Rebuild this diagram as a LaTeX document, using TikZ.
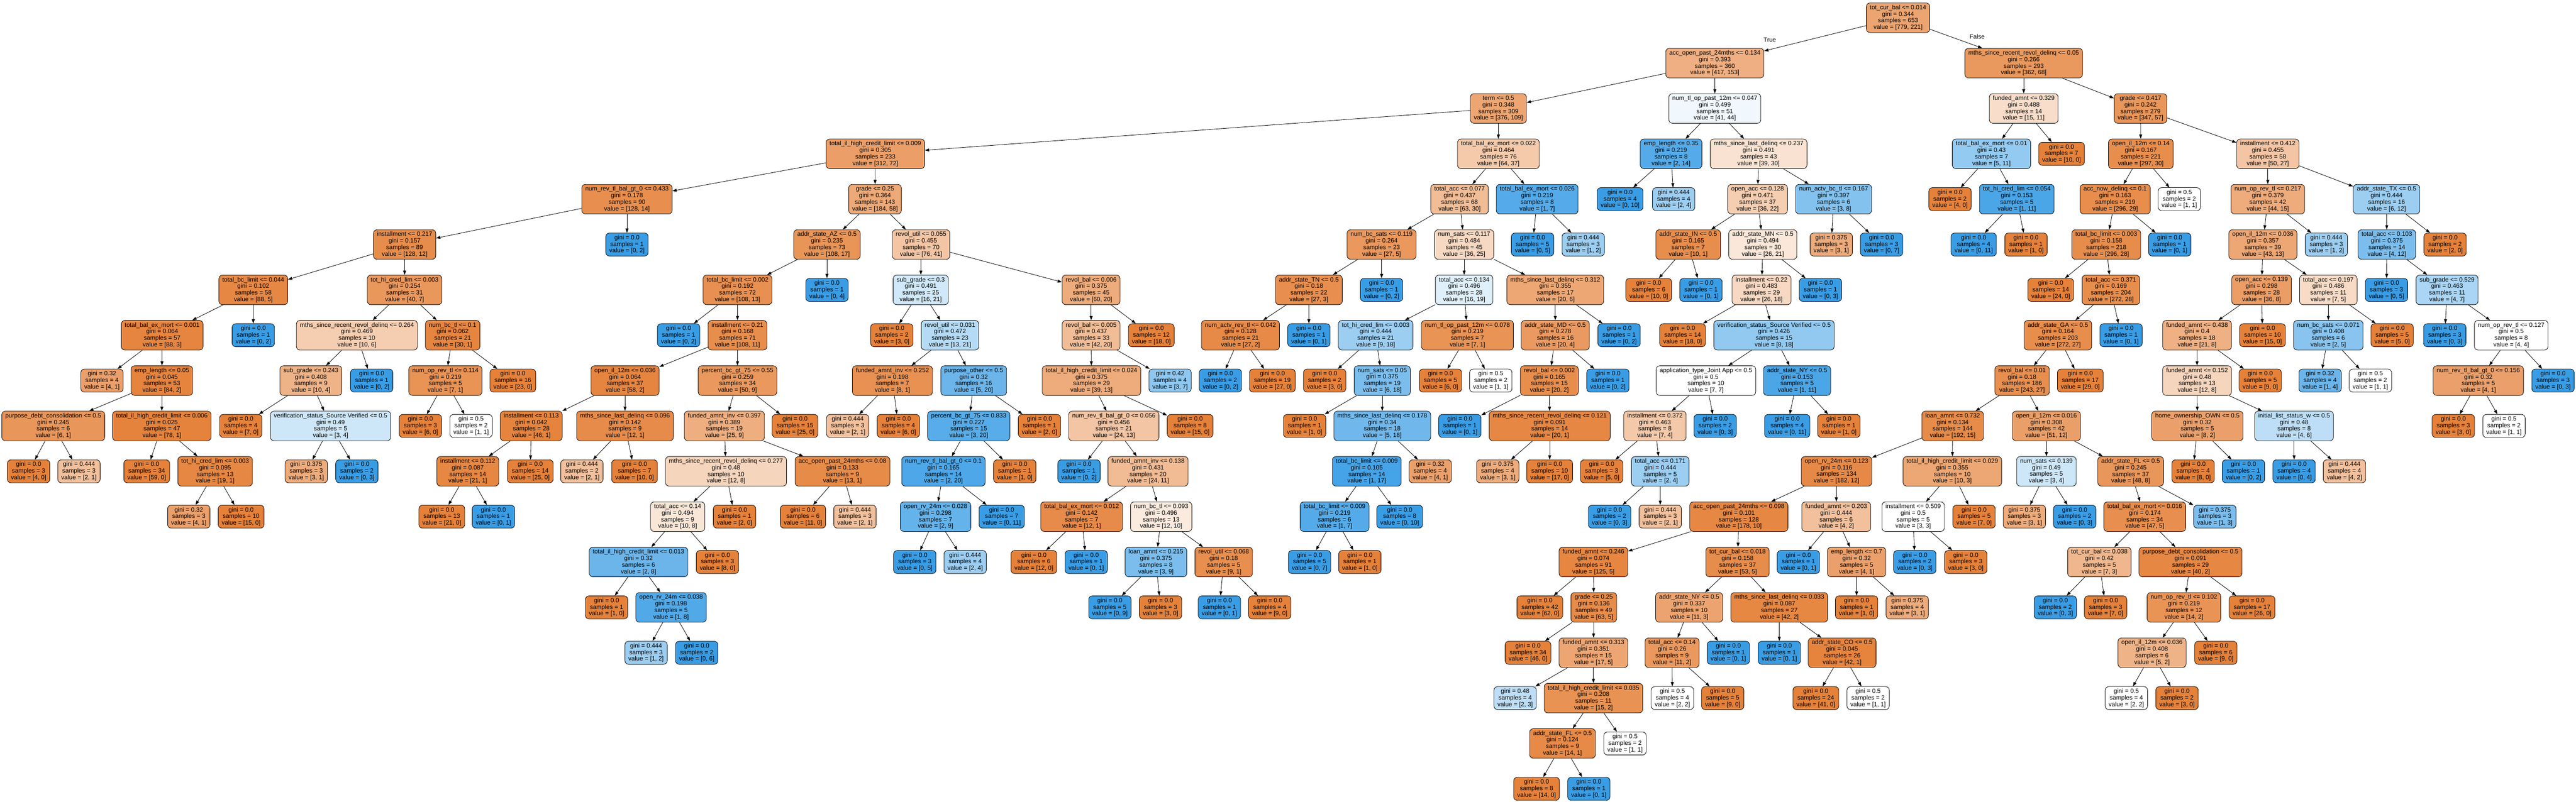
\documentclass[tikz,border=0pt]{standalone}
\usepackage{fontspec}
\setmainfont{Liberation Sans}
\usetikzlibrary{arrows.meta}
\definecolor{gvorange}{HTML}{E58139}
\definecolor{gvblue}{HTML}{399DE5}
\tikzstyle{split} = [rectangle, rounded corners=11pt, draw=black, line width=1.3pt, align=center, inner xsep=10.67pt, inner ysep=0pt, minimum height=90pt, font=\fontsize{18.67}{20}\selectfont]
\tikzstyle{leaf} = [split, minimum height=70pt]
\tikzstyle{lbl} = [inner sep=0pt, font=\fontsize{18.67}{20}\selectfont]
\tikzset{val/.code 2 args={%
  \ifnum#1<#2 \pgfmathsetmacro\gvmix{100*(1-#1/#2)}\def\gvhue{gvblue}%
  \else \pgfmathsetmacro\gvmix{100*(1-#2/#1)}\def\gvhue{gvorange}\fi
  \edef\gvtmp{\noexpand\pgfkeysalso{fill=\gvhue!\gvmix!white}}\gvtmp}}
\begin{document}
\begin{tikzpicture}[x=1pt, y=-138pt, line width=1.3pt, >={Triangle[length=13pt,width=9pt]}]
        \useasboundingbox (0,-0.3913) rectangle (7831,17.2826);
        \node (n0) [split,val={779}{221}] at (5770,0) {tot\_cur\_bal <= 0.014\\gini = 0.344\\samples = 653\\value = [779, 221]};
        \node (n1) [split,val={417}{153}] at (5213,1) {acc\_open\_past\_24mths <= 0.134\\gini = 0.393\\samples = 360\\value = [417, 153]};
        \node (n2) [split,val={376}{109}] at (4555,2) {term <= 0.5\\gini = 0.348\\samples = 309\\value = [376, 109]};
        \node (n3) [split,val={312}{72}] at (2661,3) {total\_il\_high\_credit\_limit <= 0.009\\gini = 0.305\\samples = 233\\value = [312, 72]};
        \node (n4) [split,val={128}{14}] at (1906,4) {num\_rev\_tl\_bal\_gt\_0 <= 0.433\\gini = 0.178\\samples = 90\\value = [128, 14]};
        \node (n5) [split,val={128}{12}] at (1230,5) {installment <= 0.217\\gini = 0.157\\samples = 89\\value = [128, 12]};
        \node (n6) [split,val={88}{5}] at (770,6) {total\_bc\_limit <= 0.044\\gini = 0.102\\samples = 58\\value = [88, 5]};
        \node (n7) [split,val={88}{3}] at (493,7) {total\_bal\_ex\_mort <= 0.001\\gini = 0.064\\samples = 57\\value = [88, 3]};
        \node (n8) [leaf,val={4}{1}] at (310,8) {gini = 0.32\\samples = 4\\value = [4, 1]};
        \node (n9) [split,val={84}{2}] at (492,8) {emp\_length <= 0.05\\gini = 0.045\\samples = 53\\value = [84, 2]};
        \node (n10) [split,val={6}{1}] at (162,9) {purpose\_debt\_consolidation <= 0.5\\gini = 0.245\\samples = 6\\value = [6, 1]};
        \node (n11) [leaf,val={4}{0}] at (87,10) {gini = 0.0\\samples = 3\\value = [4, 0]};
        \node (n12) [leaf,val={2}{1}] at (240,10) {gini = 0.444\\samples = 3\\value = [2, 1]};
        \node (n13) [split,val={78}{1}] at (492,9) {total\_il\_high\_credit\_limit <= 0.006\\gini = 0.025\\samples = 47\\value = [78, 1]};
        \node (n14) [leaf,val={59}{0}] at (446,10) {gini = 0.0\\samples = 34\\value = [59, 0]};
        \node (n15) [split,val={19}{1}] at (654,10) {tot\_hi\_cred\_lim <= 0.003\\gini = 0.095\\samples = 13\\value = [19, 1]};
        \node (n16) [leaf,val={4}{1}] at (574,11) {gini = 0.32\\samples = 3\\value = [4, 1]};
        \node (n17) [leaf,val={15}{0}] at (733,11) {gini = 0.0\\samples = 10\\value = [15, 0]};
        \node (n18) [leaf,val={0}{2}] at (770,7) {gini = 0.0\\samples = 1\\value = [0, 2]};
        \node (n19) [split,val={40}{7}] at (1230,6) {tot\_hi\_cred\_lim <= 0.003\\gini = 0.254\\samples = 31\\value = [40, 7]};
        \node (n20) [split,val={10}{6}] at (1085,7) {mths\_since\_recent\_revol\_delinq <= 0.264\\gini = 0.469\\samples = 10\\value = [10, 6]};
        \node (n21) [split,val={10}{4}] at (945,8) {sub\_grade <= 0.243\\gini = 0.408\\samples = 9\\value = [10, 4]};
        \node (n22) [leaf,val={7}{0}] at (732,9) {gini = 0.0\\samples = 4\\value = [7, 0]};
        \node (n23) [split,val={3}{4}] at (1005,9) {verification\_status\_Source Verified <= 0.5\\gini = 0.49\\samples = 5\\value = [3, 4]};
        \node (n24) [leaf,val={3}{1}] at (931,10) {gini = 0.375\\samples = 3\\value = [3, 1]};
        \node (n25) [leaf,val={0}{3}] at (1085,10) {gini = 0.0\\samples = 2\\value = [0, 3]};
        \node (n26) [leaf,val={0}{2}] at (1130,8) {gini = 0.0\\samples = 1\\value = [0, 2]};
        \node (n27) [split,val={30}{1}] at (1376,7) {num\_bc\_tl <= 0.1\\gini = 0.062\\samples = 21\\value = [30, 1]};
        \node (n28) [split,val={7}{1}] at (1354,8) {num\_op\_rev\_tl <= 0.114\\gini = 0.219\\samples = 5\\value = [7, 1]};
        \node (n29) [leaf,val={6}{0}] at (1278,9) {gini = 0.0\\samples = 3\\value = [6, 0]};
        \node (n30) [leaf,val={1}{1}] at (1432,9) {gini = 0.5\\samples = 2\\value = [1, 1]};
        \node (n31) [leaf,val={23}{0}] at (1559,8) {gini = 0.0\\samples = 16\\value = [23, 0]};
        \node (n32) [leaf,val={0}{2}] at (1906,5) {gini = 0.0\\samples = 1\\value = [0, 2]};
        \node (n33) [split,val={184}{58}] at (2660,4) {grade <= 0.25\\gini = 0.364\\samples = 143\\value = [184, 58]};
        \node (n34) [split,val={108}{17}] at (2514,5) {addr\_state\_AZ <= 0.5\\gini = 0.235\\samples = 73\\value = [108, 17]};
        \node (n35) [split,val={108}{13}] at (2242,6) {total\_bc\_limit <= 0.002\\gini = 0.192\\samples = 72\\value = [108, 13]};
        \node (n36) [leaf,val={0}{2}] at (2063,7) {gini = 0.0\\samples = 1\\value = [0, 2]};
        \node (n37) [split,val={108}{11}] at (2242,7) {installment <= 0.21\\gini = 0.168\\samples = 71\\value = [108, 11]};
        \node (n38) [split,val={58}{2}] at (1900,8) {open\_il\_12m <= 0.036\\gini = 0.064\\samples = 37\\value = [58, 2]};
        \node (n39) [split,val={46}{1}] at (1615,9) {installment <= 0.113\\gini = 0.042\\samples = 28\\value = [46, 1]};
        \node (n40) [split,val={21}{1}] at (1422,10) {installment <= 0.112\\gini = 0.087\\samples = 14\\value = [21, 1]};
        \node (n41) [leaf,val={21}{0}] at (1343,11) {gini = 0.0\\samples = 13\\value = [21, 0]};
        \node (n42) [leaf,val={0}{1}] at (1500,11) {gini = 0.0\\samples = 1\\value = [0, 1]};
        \node (n43) [leaf,val={25}{0}] at (1612,10) {gini = 0.0\\samples = 14\\value = [25, 0]};
        \node (n44) [split,val={12}{1}] at (1900,9) {mths\_since\_last\_delinq <= 0.096\\gini = 0.142\\samples = 9\\value = [12, 1]};
        \node (n45) [leaf,val={2}{1}] at (1769,10) {gini = 0.444\\samples = 2\\value = [2, 1]};
        \node (n46) [leaf,val={10}{0}] at (1929,10) {gini = 0.0\\samples = 7\\value = [10, 0]};
        \node (n47) [split,val={50}{9}] at (2242,8) {percent\_bc\_gt\_75 <= 0.55\\gini = 0.259\\samples = 34\\value = [50, 9]};
        \node (n48) [split,val={25}{9}] at (2202,9) {funded\_amnt\_inv <= 0.397\\gini = 0.389\\samples = 19\\value = [25, 9]};
        \node (n49) [split,val={12}{8}] at (2207,10) {mths\_since\_recent\_revol\_delinq <= 0.277\\gini = 0.48\\samples = 10\\value = [12, 8]};
        \node (n50) [split,val={10}{8}] at (2060,11) {total\_acc <= 0.14\\gini = 0.494\\samples = 9\\value = [10, 8]};
        \node (n51) [split,val={2}{8}] at (1941,12) {total\_il\_high\_credit\_limit <= 0.013\\gini = 0.32\\samples = 6\\value = [2, 8]};
        \node (n52) [leaf,val={1}{0}] at (1844,13) {gini = 0.0\\samples = 1\\value = [1, 0]};
        \node (n53) [split,val={1}{8}] at (2040,13) {open\_rv\_24m <= 0.038\\gini = 0.198\\samples = 5\\value = [1, 8]};
        \node (n54) [leaf,val={1}{2}] at (1964,14) {gini = 0.444\\samples = 3\\value = [1, 2]};
        \node (n55) [leaf,val={0}{6}] at (2118,14) {gini = 0.0\\samples = 2\\value = [0, 6]};
        \node (n56) [leaf,val={8}{0}] at (2181,12) {gini = 0.0\\samples = 3\\value = [8, 0]};
        \node (n57) [leaf,val={2}{0}] at (2233,11) {gini = 0.0\\samples = 1\\value = [2, 0]};
        \node (n58) [split,val={13}{1}] at (2561,10) {acc\_open\_past\_24mths <= 0.08\\gini = 0.133\\samples = 9\\value = [13, 1]};
        \node (n59) [leaf,val={11}{0}] at (2441,11) {gini = 0.0\\samples = 6\\value = [11, 0]};
        \node (n60) [leaf,val={2}{1}] at (2599,11) {gini = 0.444\\samples = 3\\value = [2, 1]};
        \node (n61) [leaf,val={25}{0}] at (2417,9) {gini = 0.0\\samples = 15\\value = [25, 0]};
        \node (n62) [leaf,val={0}{4}] at (2514,6) {gini = 0.0\\samples = 1\\value = [0, 4]};
        \node (n63) [split,val={76}{41}] at (2800,5) {revol\_util <= 0.055\\gini = 0.455\\samples = 70\\value = [76, 41]};
        \node (n64) [split,val={16}{21}] at (2799,6) {sub\_grade <= 0.3\\gini = 0.491\\samples = 25\\value = [16, 21]};
        \node (n65) [leaf,val={3}{0}] at (2711,7) {gini = 0.0\\samples = 2\\value = [3, 0]};
        \node (n66) [split,val={13}{21}] at (2888,7) {revol\_util <= 0.031\\gini = 0.472\\samples = 23\\value = [13, 21]};
        \node (n67) [split,val={8}{1}] at (2713,8) {funded\_amnt\_inv <= 0.252\\gini = 0.198\\samples = 7\\value = [8, 1]};
        \node (n68) [leaf,val={2}{1}] at (2577,9) {gini = 0.444\\samples = 3\\value = [2, 1]};
        \node (n69) [leaf,val={6}{0}] at (2731,9) {gini = 0.0\\samples = 4\\value = [6, 0]};
        \node (n70) [split,val={5}{20}] at (2960,8) {purpose\_other <= 0.5\\gini = 0.32\\samples = 16\\value = [5, 20]};
        \node (n71) [split,val={3}{20}] at (2945,9) {percent\_bc\_gt\_75 <= 0.833\\gini = 0.227\\samples = 15\\value = [3, 20]};
        \node (n72) [split,val={2}{20}] at (2868,10) {num\_rev\_tl\_bal\_gt\_0 <= 0.1\\gini = 0.165\\samples = 14\\value = [2, 20]};
        \node (n73) [split,val={2}{9}] at (2844,11) {open\_rv\_24m <= 0.028\\gini = 0.298\\samples = 7\\value = [2, 9]};
        \node (n74) [leaf,val={0}{5}] at (2781,12) {gini = 0.0\\samples = 3\\value = [0, 5]};
        \node (n75) [leaf,val={2}{4}] at (2934,12) {gini = 0.444\\samples = 4\\value = [2, 4]};
        \node (n76) [leaf,val={0}{11}] at (3045,11) {gini = 0.0\\samples = 7\\value = [0, 11]};
        \node (n77) [leaf,val={1}{0}] at (3085,10) {gini = 0.0\\samples = 1\\value = [1, 0]};
        \node (n78) [leaf,val={2}{0}] at (3160,9) {gini = 0.0\\samples = 1\\value = [2, 0]};
        \node (n79) [split,val={60}{20}] at (3317,6) {revol\_bal <= 0.006\\gini = 0.375\\samples = 45\\value = [60, 20]};
        \node (n80) [split,val={42}{20}] at (3317,7) {revol\_bal <= 0.005\\gini = 0.437\\samples = 33\\value = [42, 20]};
        \node (n81) [split,val={39}{13}] at (3318,8) {total\_il\_high\_credit\_limit <= 0.024\\gini = 0.375\\samples = 29\\value = [39, 13]};
        \node (n82) [split,val={24}{13}] at (3386,9) {num\_rev\_tl\_bal\_gt\_0 <= 0.056\\gini = 0.456\\samples = 21\\value = [24, 13]};
        \node (n83) [leaf,val={0}{2}] at (3280,10) {gini = 0.0\\samples = 1\\value = [0, 2]};
        \node (n84) [split,val={24}{11}] at (3490,10) {funded\_amnt\_inv <= 0.138\\gini = 0.431\\samples = 20\\value = [24, 11]};
        \node (n85) [split,val={12}{1}] at (3288,11) {total\_bal\_ex\_mort <= 0.012\\gini = 0.142\\samples = 7\\value = [12, 1]};
        \node (n86) [leaf,val={12}{0}] at (3143,12) {gini = 0.0\\samples = 6\\value = [12, 0]};
        \node (n87) [leaf,val={0}{1}] at (3302,12) {gini = 0.0\\samples = 1\\value = [0, 1]};
        \node (n88) [split,val={12}{10}] at (3530,11) {num\_bc\_tl <= 0.093\\gini = 0.496\\samples = 13\\value = [12, 10]};
        \node (n89) [split,val={3}{9}] at (3514,12) {loan\_amnt <= 0.215\\gini = 0.375\\samples = 8\\value = [3, 9]};
        \node (n90) [leaf,val={0}{9}] at (3374,13) {gini = 0.0\\samples = 5\\value = [0, 9]};
        \node (n91) [leaf,val={3}{0}] at (3528,13) {gini = 0.0\\samples = 3\\value = [3, 0]};
        \node (n92) [split,val={9}{1}] at (3720,12) {revol\_util <= 0.068\\gini = 0.18\\samples = 5\\value = [9, 1]};
        \node (n93) [leaf,val={0}{1}] at (3707,13) {gini = 0.0\\samples = 1\\value = [0, 1]};
        \node (n94) [leaf,val={9}{0}] at (3860,13) {gini = 0.0\\samples = 4\\value = [9, 0]};
        \node (n95) [leaf,val={15}{0}] at (3618,9) {gini = 0.0\\samples = 8\\value = [15, 0]};
        \node (n96) [leaf,val={3}{7}] at (3557,8) {gini = 0.42\\samples = 4\\value = [3, 7]};
        \node (n97) [leaf,val={18}{0}] at (3500,7) {gini = 0.0\\samples = 12\\value = [18, 0]};
        \node (n98) [split,val={64}{37}] at (4555,3) {total\_bal\_ex\_mort <= 0.022\\gini = 0.464\\samples = 76\\value = [64, 37]};
        \node (n99) [split,val={63}{30}] at (4437,4) {total\_acc <= 0.077\\gini = 0.437\\samples = 68\\value = [63, 30]};
        \node (n100) [split,val={27}{5}] at (4200,5) {num\_bc\_sats <= 0.119\\gini = 0.264\\samples = 23\\value = [27, 5]};
        \node (n101) [split,val={27}{3}] at (3979,6) {addr\_state\_TN <= 0.5\\gini = 0.18\\samples = 22\\value = [27, 3]};
        \node (n102) [split,val={27}{2}] at (3771,7) {num\_actv\_rev\_tl <= 0.042\\gini = 0.128\\samples = 21\\value = [27, 2]};
        \node (n103) [leaf,val={0}{2}] at (3710,8) {gini = 0.0\\samples = 2\\value = [0, 2]};
        \node (n104) [leaf,val={27}{0}] at (3868,8) {gini = 0.0\\samples = 19\\value = [27, 0]};
        \node (n105) [leaf,val={0}{1}] at (3979,7) {gini = 0.0\\samples = 1\\value = [0, 1]};
        \node (n106) [leaf,val={0}{2}] at (4200,6) {gini = 0.0\\samples = 1\\value = [0, 2]};
        \node (n107) [split,val={36}{25}] at (4451,5) {num\_sats <= 0.117\\gini = 0.484\\samples = 45\\value = [36, 25]};
        \node (n108) [split,val={16}{19}] at (4451,6) {total\_acc <= 0.134\\gini = 0.496\\samples = 28\\value = [16, 19]};
        \node (n109) [split,val={9}{18}] at (4182,7) {tot\_hi\_cred\_lim <= 0.003\\gini = 0.444\\samples = 21\\value = [9, 18]};
        \node (n110) [leaf,val={3}{0}] at (4027,8) {gini = 0.0\\samples = 2\\value = [3, 0]};
        \node (n111) [split,val={6}{18}] at (4202,8) {num\_sats <= 0.05\\gini = 0.375\\samples = 19\\value = [6, 18]};
        \node (n112) [leaf,val={1}{0}] at (3966,9) {gini = 0.0\\samples = 1\\value = [1, 0]};
        \node (n113) [split,val={5}{18}] at (4202,9) {mths\_since\_last\_delinq <= 0.178\\gini = 0.34\\samples = 18\\value = [5, 18]};
        \node (n114) [split,val={1}{17}] at (4155,10) {total\_bc\_limit <= 0.009\\gini = 0.105\\samples = 14\\value = [1, 17]};
        \node (n115) [split,val={1}{7}] at (4057,11) {total\_bc\_limit <= 0.009\\gini = 0.219\\samples = 6\\value = [1, 7]};
        \node (n116) [leaf,val={0}{7}] at (3981,12) {gini = 0.0\\samples = 5\\value = [0, 7]};
        \node (n117) [leaf,val={1}{0}] at (4134,12) {gini = 0.0\\samples = 1\\value = [1, 0]};
        \node (n118) [leaf,val={0}{10}] at (4255,11) {gini = 0.0\\samples = 8\\value = [0, 10]};
        \node (n119) [leaf,val={4}{1}] at (4348,10) {gini = 0.32\\samples = 4\\value = [4, 1]};
        \node (n120) [split,val={7}{1}] at (4461,7) {num\_tl\_op\_past\_12m <= 0.078\\gini = 0.219\\samples = 7\\value = [7, 1]};
        \node (n121) [leaf,val={6}{0}] at (4379,8) {gini = 0.0\\samples = 5\\value = [6, 0]};
        \node (n122) [leaf,val={1}{1}] at (4532,8) {gini = 0.5\\samples = 2\\value = [1, 1]};
        \node (n123) [split,val={20}{6}] at (4728,6) {mths\_since\_last\_delinq <= 0.312\\gini = 0.355\\samples = 17\\value = [20, 6]};
        \node (n124) [split,val={20}{4}] at (4728,7) {addr\_state\_MD <= 0.5\\gini = 0.278\\samples = 16\\value = [20, 4]};
        \node (n125) [split,val={20}{2}] at (4710,8) {revol\_bal <= 0.002\\gini = 0.165\\samples = 15\\value = [20, 2]};
        \node (n126) [leaf,val={0}{1}] at (4438,9) {gini = 0.0\\samples = 1\\value = [0, 1]};
        \node (n127) [split,val={20}{1}] at (4711,9) {mths\_since\_recent\_revol\_delinq <= 0.121\\gini = 0.091\\samples = 14\\value = [20, 1]};
        \node (n128) [leaf,val={3}{1}] at (4553,10) {gini = 0.375\\samples = 4\\value = [3, 1]};
        \node (n129) [leaf,val={17}{0}] at (4711,10) {gini = 0.0\\samples = 10\\value = [17, 0]};
        \node (n130) [leaf,val={0}{2}] at (4888,8) {gini = 0.0\\samples = 1\\value = [0, 2]};
        \node (n131) [leaf,val={0}{2}] at (4922,7) {gini = 0.0\\samples = 1\\value = [0, 2]};
        \node (n132) [split,val={1}{7}] at (4673,4) {total\_bal\_ex\_mort <= 0.026\\gini = 0.219\\samples = 8\\value = [1, 7]};
        \node (n133) [leaf,val={0}{5}] at (4659,5) {gini = 0.0\\samples = 5\\value = [0, 5]};
        \node (n134) [leaf,val={1}{2}] at (4813,5) {gini = 0.444\\samples = 3\\value = [1, 2]};
        \node (n135) [split,val={41}{44}] at (5213,2) {num\_tl\_op\_past\_12m <= 0.047\\gini = 0.499\\samples = 51\\value = [41, 44]};
        \node (n136) [split,val={2}{14}] at (5080,3) {emp\_length <= 0.35\\gini = 0.219\\samples = 8\\value = [2, 14]};
        \node (n137) [leaf,val={0}{10}] at (4925,4) {gini = 0.0\\samples = 4\\value = [0, 10]};
        \node (n138) [leaf,val={2}{4}] at (5088,4) {gini = 0.444\\samples = 4\\value = [2, 4]};
        \node (n139) [split,val={39}{30}] at (5346,3) {mths\_since\_last\_delinq <= 0.237\\gini = 0.491\\samples = 43\\value = [39, 30]};
        \node (n140) [split,val={36}{22}] at (5343,4) {open\_acc <= 0.128\\gini = 0.471\\samples = 37\\value = [36, 22]};
        \node (n141) [split,val={10}{1}] at (5132,5) {addr\_state\_IN <= 0.5\\gini = 0.165\\samples = 7\\value = [10, 1]};
        \node (n142) [leaf,val={10}{0}] at (5012,6) {gini = 0.0\\samples = 6\\value = [10, 0]};
        \node (n143) [leaf,val={0}{1}] at (5171,6) {gini = 0.0\\samples = 1\\value = [0, 1]};
        \node (n144) [split,val={26}{21}] at (5359,5) {addr\_state\_MN <= 0.5\\gini = 0.494\\samples = 30\\value = [26, 21]};
        \node (n145) [split,val={26}{18}] at (5355,6) {installment <= 0.22\\gini = 0.483\\samples = 29\\value = [26, 18]};
        \node (n146) [leaf,val={18}{0}] at (5115,7) {gini = 0.0\\samples = 14\\value = [18, 0]};
        \node (n147) [split,val={8}{18}] at (5393,7) {verification\_status\_Source Verified <= 0.5\\gini = 0.426\\samples = 15\\value = [8, 18]};
        \node (n148) [split,val={7}{7}] at (5186,8) {application\_type\_Joint App <= 0.5\\gini = 0.5\\samples = 10\\value = [7, 7]};
        \node (n149) [split,val={7}{4}] at (5031,9) {installment <= 0.372\\gini = 0.463\\samples = 8\\value = [7, 4]};
        \node (n150) [leaf,val={5}{0}] at (4869,10) {gini = 0.0\\samples = 3\\value = [5, 0]};
        \node (n151) [split,val={2}{4}] at (5047,10) {total\_acc <= 0.171\\gini = 0.444\\samples = 5\\value = [2, 4]};
        \node (n152) [leaf,val={0}{3}] at (4893,11) {gini = 0.0\\samples = 2\\value = [0, 3]};
        \node (n153) [leaf,val={2}{1}] at (5047,11) {gini = 0.444\\samples = 3\\value = [2, 1]};
        \node (n154) [leaf,val={0}{3}] at (5214,9) {gini = 0.0\\samples = 2\\value = [0, 3]};
        \node (n155) [split,val={1}{11}] at (5463,8) {addr\_state\_NY <= 0.5\\gini = 0.153\\samples = 5\\value = [1, 11]};
        \node (n156) [leaf,val={0}{11}] at (5433,9) {gini = 0.0\\samples = 4\\value = [0, 11]};
        \node (n157) [leaf,val={1}{0}] at (5590,9) {gini = 0.0\\samples = 1\\value = [1, 0]};
        \node (n158) [leaf,val={0}{3}] at (5534,6) {gini = 0.0\\samples = 1\\value = [0, 3]};
        \node (n159) [split,val={3}{8}] at (5574,4) {num\_actv\_bc\_tl <= 0.167\\gini = 0.397\\samples = 6\\value = [3, 8]};
        \node (n160) [leaf,val={3}{1}] at (5567,5) {gini = 0.375\\samples = 3\\value = [3, 1]};
        \node (n161) [leaf,val={0}{7}] at (5720,5) {gini = 0.0\\samples = 3\\value = [0, 7]};
        \node (n162) [split,val={362}{68}] at (6152,1) {mths\_since\_recent\_revol\_delinq <= 0.05\\gini = 0.266\\samples = 293\\value = [362, 68]};
        \node (n163) [split,val={15}{11}] at (6152,2) {funded\_amnt <= 0.329\\gini = 0.488\\samples = 14\\value = [15, 11]};
        \node (n164) [split,val={5}{11}] at (6054,3) {total\_bal\_ex\_mort <= 0.01\\gini = 0.43\\samples = 7\\value = [5, 11]};
        \node (n165) [leaf,val={4}{0}] at (5928,4) {gini = 0.0\\samples = 2\\value = [4, 0]};
        \node (n166) [split,val={1}{11}] at (6131,4) {tot\_hi\_cred\_lim <= 0.054\\gini = 0.153\\samples = 5\\value = [1, 11]};
        \node (n167) [leaf,val={0}{11}] at (6000,5) {gini = 0.0\\samples = 4\\value = [0, 11]};
        \node (n168) [leaf,val={1}{0}] at (6159,5) {gini = 0.0\\samples = 1\\value = [1, 0]};
        \node (n169) [leaf,val={10}{0}] at (6267,3) {gini = 0.0\\samples = 7\\value = [10, 0]};
        \node (n170) [split,val={347}{57}] at (6507,2) {grade <= 0.417\\gini = 0.242\\samples = 279\\value = [347, 57]};
        \node (n171) [split,val={297}{30}] at (6508,3) {open\_il\_12m <= 0.14\\gini = 0.167\\samples = 221\\value = [297, 30]};
        \node (n172) [split,val={296}{29}] at (6430,4) {acc\_now\_delinq <= 0.1\\gini = 0.163\\samples = 219\\value = [296, 29]};
        \node (n173) [split,val={296}{28}] at (6403,5) {total\_bc\_limit <= 0.003\\gini = 0.158\\samples = 218\\value = [296, 28]};
        \node (n174) [leaf,val={24}{0}] at (6234,6) {gini = 0.0\\samples = 14\\value = [24, 0]};
        \node (n175) [split,val={272}{28}] at (6417,6) {total\_acc <= 0.371\\gini = 0.169\\samples = 204\\value = [272, 28]};
        \node (n176) [split,val={272}{27}] at (6256,7) {addr\_state\_GA <= 0.5\\gini = 0.164\\samples = 203\\value = [272, 27]};
        \node (n177) [split,val={243}{27}] at (6147,8) {revol\_bal <= 0.01\\gini = 0.18\\samples = 186\\value = [243, 27]};
        \node (n178) [split,val={192}{15}] at (5936,9) {loan\_amnt <= 0.732\\gini = 0.134\\samples = 144\\value = [192, 15]};
        \node (n179) [split,val={182}{12}] at (5583,10) {open\_rv\_24m <= 0.123\\gini = 0.116\\samples = 134\\value = [182, 12]};
        \node (n180) [split,val={178}{10}] at (5286,11) {acc\_open\_past\_24mths <= 0.098\\gini = 0.101\\samples = 128\\value = [178, 10]};
        \node (n181) [split,val={125}{5}] at (4844,12) {funded\_amnt <= 0.246\\gini = 0.074\\samples = 91\\value = [125, 5]};
        \node (n182) [leaf,val={62}{0}] at (4681,13) {gini = 0.0\\samples = 42\\value = [62, 0]};
        \node (n183) [split,val={63}{5}] at (4845,13) {grade <= 0.25\\gini = 0.136\\samples = 49\\value = [63, 5]};
        \node (n184) [leaf,val={46}{0}] at (4645,14) {gini = 0.0\\samples = 34\\value = [46, 0]};
        \node (n185) [split,val={17}{5}] at (4844,14) {funded\_amnt <= 0.313\\gini = 0.351\\samples = 15\\value = [17, 5]};
        \node (n186) [leaf,val={2}{3}] at (4606,15) {gini = 0.48\\samples = 4\\value = [2, 3]};
        \node (n187) [split,val={15}{2}] at (4844,15) {total\_il\_high\_credit\_limit <= 0.035\\gini = 0.208\\samples = 11\\value = [15, 2]};
        \node (n188) [split,val={14}{1}] at (4750,16) {addr\_state\_FL <= 0.5\\gini = 0.124\\samples = 9\\value = [14, 1]};
        \node (n189) [leaf,val={14}{0}] at (4671,17) {gini = 0.0\\samples = 8\\value = [14, 0]};
        \node (n190) [leaf,val={0}{1}] at (4830,17) {gini = 0.0\\samples = 1\\value = [0, 1]};
        \node (n191) [leaf,val={1}{1}] at (4940,16) {gini = 0.5\\samples = 2\\value = [1, 1]};
        \node (n192) [split,val={53}{5}] at (5282,12) {tot\_cur\_bal <= 0.018\\gini = 0.158\\samples = 37\\value = [53, 5]};
        \node (n193) [split,val={11}{3}] at (5135,13) {addr\_state\_NY <= 0.5\\gini = 0.337\\samples = 10\\value = [11, 3]};
        \node (n194) [split,val={11}{2}] at (5083,14) {total\_acc <= 0.14\\gini = 0.26\\samples = 9\\value = [11, 2]};
        \node (n195) [leaf,val={2}{2}] at (5084,15) {gini = 0.5\\samples = 4\\value = [2, 2]};
        \node (n196) [leaf,val={9}{0}] at (5237,15) {gini = 0.0\\samples = 5\\value = [9, 0]};
        \node (n197) [leaf,val={0}{1}] at (5254,14) {gini = 0.0\\samples = 1\\value = [0, 1]};
        \node (n198) [split,val={42}{2}] at (5409,13) {mths\_since\_last\_delinq <= 0.033\\gini = 0.087\\samples = 27\\value = [42, 2]};
        \node (n199) [leaf,val={0}{1}] at (5409,14) {gini = 0.0\\samples = 1\\value = [0, 1]};
        \node (n200) [split,val={42}{1}] at (5600,14) {addr\_state\_CO <= 0.5\\gini = 0.045\\samples = 26\\value = [42, 1]};
        \node (n201) [leaf,val={41}{0}] at (5520,15) {gini = 0.0\\samples = 24\\value = [41, 0]};
        \node (n202) [leaf,val={1}{1}] at (5679,15) {gini = 0.5\\samples = 2\\value = [1, 1]};
        \node (n203) [split,val={4}{2}] at (5582,11) {funded\_amnt <= 0.203\\gini = 0.444\\samples = 6\\value = [4, 2]};
        \node (n204) [leaf,val={0}{1}] at (5467,12) {gini = 0.0\\samples = 1\\value = [0, 1]};
        \node (n205) [split,val={4}{1}] at (5644,12) {emp\_length <= 0.7\\gini = 0.32\\samples = 5\\value = [4, 1]};
        \node (n206) [leaf,val={1}{0}] at (5644,13) {gini = 0.0\\samples = 1\\value = [1, 0]};
        \node (n207) [leaf,val={3}{1}] at (5798,13) {gini = 0.375\\samples = 4\\value = [3, 1]};
        \node (n208) [split,val={10}{3}] at (5935,10) {total\_il\_high\_credit\_limit <= 0.029\\gini = 0.355\\samples = 10\\value = [10, 3]};
        \node (n209) [split,val={3}{3}] at (5816,11) {installment <= 0.509\\gini = 0.5\\samples = 5\\value = [3, 3]};
        \node (n210) [leaf,val={0}{3}] at (5821,12) {gini = 0.0\\samples = 2\\value = [0, 3]};
        \node (n211) [leaf,val={3}{0}] at (5976,12) {gini = 0.0\\samples = 3\\value = [3, 0]};
        \node (n212) [leaf,val={7}{0}] at (6001,11) {gini = 0.0\\samples = 5\\value = [7, 0]};
        \node (n213) [split,val={51}{12}] at (6221,9) {open\_il\_12m <= 0.016\\gini = 0.308\\samples = 42\\value = [51, 12]};
        \node (n214) [split,val={3}{4}] at (6221,10) {num\_sats <= 0.139\\gini = 0.49\\samples = 5\\value = [3, 4]};
        \node (n215) [leaf,val={3}{1}] at (6154,11) {gini = 0.375\\samples = 3\\value = [3, 1]};
        \node (n216) [leaf,val={0}{3}] at (6307,11) {gini = 0.0\\samples = 2\\value = [0, 3]};
        \node (n217) [split,val={48}{8}] at (6477,10) {addr\_state\_FL <= 0.5\\gini = 0.245\\samples = 37\\value = [48, 8]};
        \node (n218) [split,val={47}{5}] at (6520,11) {total\_bal\_ex\_mort <= 0.016\\gini = 0.174\\samples = 34\\value = [47, 5]};
        \node (n219) [split,val={7}{3}] at (6382,12) {tot\_cur\_bal <= 0.038\\gini = 0.42\\samples = 5\\value = [7, 3]};
        \node (n220) [leaf,val={0}{3}] at (6248,13) {gini = 0.0\\samples = 2\\value = [0, 3]};
        \node (n221) [leaf,val={7}{0}] at (6401,13) {gini = 0.0\\samples = 3\\value = [7, 0]};
        \node (n222) [split,val={40}{2}] at (6659,12) {purpose\_debt\_consolidation <= 0.5\\gini = 0.091\\samples = 29\\value = [40, 2]};
        \node (n223) [split,val={14}{2}] at (6639,13) {num\_op\_rev\_tl <= 0.102\\gini = 0.219\\samples = 12\\value = [14, 2]};
        \node (n224) [split,val={5}{2}] at (6542,14) {open\_il\_12m <= 0.036\\gini = 0.408\\samples = 6\\value = [5, 2]};
        \node (n225) [leaf,val={2}{2}] at (6464,15) {gini = 0.5\\samples = 4\\value = [2, 2]};
        \node (n226) [leaf,val={3}{0}] at (6618,15) {gini = 0.0\\samples = 2\\value = [3, 0]};
        \node (n227) [leaf,val={9}{0}] at (6736,14) {gini = 0.0\\samples = 6\\value = [9, 0]};
        \node (n228) [leaf,val={26}{0}] at (6846,13) {gini = 0.0\\samples = 17\\value = [26, 0]};
        \node (n229) [leaf,val={1}{3}] at (6733,11) {gini = 0.375\\samples = 3\\value = [1, 3]};
        \node (n230) [leaf,val={29}{0}] at (6324,8) {gini = 0.0\\samples = 17\\value = [29, 0]};
        \node (n231) [leaf,val={0}{1}] at (6448,7) {gini = 0.0\\samples = 1\\value = [0, 1]};
        \node (n232) [leaf,val={0}{1}] at (6596,5) {gini = 0.0\\samples = 1\\value = [0, 1]};
        \node (n233) [leaf,val={1}{1}] at (6625,4) {gini = 0.5\\samples = 2\\value = [1, 1]};
        \node (n234) [split,val={50}{27}] at (6894,3) {installment <= 0.412\\gini = 0.455\\samples = 58\\value = [50, 27]};
        \node (n235) [split,val={44}{15}] at (6894,4) {num\_op\_rev\_tl <= 0.217\\gini = 0.379\\samples = 42\\value = [44, 15]};
        \node (n236) [split,val={43}{13}] at (6879,5) {open\_il\_12m <= 0.036\\gini = 0.357\\samples = 39\\value = [43, 13]};
        \node (n237) [split,val={36}{8}] at (6875,6) {open\_acc <= 0.139\\gini = 0.298\\samples = 28\\value = [36, 8]};
        \node (n238) [split,val={21}{8}] at (6679,7) {funded\_amnt <= 0.438\\gini = 0.4\\samples = 18\\value = [21, 8]};
        \node (n239) [split,val={12}{8}] at (6679,8) {funded\_amnt <= 0.152\\gini = 0.48\\samples = 13\\value = [12, 8]};
        \node (n240) [split,val={8}{2}] at (6680,9) {home\_ownership\_OWN <= 0.5\\gini = 0.32\\samples = 5\\value = [8, 2]};
        \node (n241) [leaf,val={8}{0}] at (6667,10) {gini = 0.0\\samples = 4\\value = [8, 0]};
        \node (n242) [leaf,val={0}{2}] at (6820,10) {gini = 0.0\\samples = 1\\value = [0, 2]};
        \node (n243) [split,val={4}{6}] at (6974,9) {initial\_list\_status\_w <= 0.5\\gini = 0.48\\samples = 8\\value = [4, 6]};
        \node (n244) [leaf,val={0}{4}] at (6974,10) {gini = 0.0\\samples = 4\\value = [0, 4]};
        \node (n245) [leaf,val={4}{2}] at (7127,10) {gini = 0.444\\samples = 4\\value = [4, 2]};
        \node (n246) [leaf,val={9}{0}] at (6871,8) {gini = 0.0\\samples = 5\\value = [9, 0]};
        \node (n247) [leaf,val={15}{0}] at (6878,7) {gini = 0.0\\samples = 10\\value = [15, 0]};
        \node (n248) [split,val={7}{5}] at (7078,6) {total\_acc <= 0.197\\gini = 0.486\\samples = 11\\value = [7, 5]};
        \node (n249) [split,val={2}{5}] at (7078,7) {num\_bc\_sats <= 0.071\\gini = 0.408\\samples = 6\\value = [2, 5]};
        \node (n250) [leaf,val={1}{4}] at (7053,8) {gini = 0.32\\samples = 4\\value = [1, 4]};
        \node (n251) [leaf,val={1}{1}] at (7206,8) {gini = 0.5\\samples = 2\\value = [1, 1]};
        \node (n252) [leaf,val={5}{0}] at (7272,7) {gini = 0.0\\samples = 5\\value = [5, 0]};
        \node (n253) [leaf,val={1}{2}] at (7072,5) {gini = 0.444\\samples = 3\\value = [1, 2]};
        \node (n254) [split,val={6}{12}] at (7255,4) {addr\_state\_TX <= 0.5\\gini = 0.444\\samples = 16\\value = [6, 12]};
        \node (n255) [split,val={4}{12}] at (7256,5) {total\_acc <= 0.103\\gini = 0.375\\samples = 14\\value = [4, 12]};
        \node (n256) [leaf,val={0}{5}] at (7255,6) {gini = 0.0\\samples = 3\\value = [0, 5]};
        \node (n257) [split,val={4}{7}] at (7439,6) {sub\_grade <= 0.529\\gini = 0.463\\samples = 11\\value = [4, 7]};
        \node (n258) [leaf,val={0}{3}] at (7432,7) {gini = 0.0\\samples = 3\\value = [0, 3]};
        \node (n259) [split,val={4}{4}] at (7634,7) {num\_op\_rev\_tl <= 0.127\\gini = 0.5\\samples = 8\\value = [4, 4]};
        \node (n260) [split,val={4}{1}] at (7534,8) {num\_rev\_tl\_bal\_gt\_0 <= 0.156\\gini = 0.32\\samples = 5\\value = [4, 1]};
        \node (n261) [leaf,val={3}{0}] at (7458,9) {gini = 0.0\\samples = 3\\value = [3, 0]};
        \node (n262) [leaf,val={1}{1}] at (7612,9) {gini = 0.5\\samples = 2\\value = [1, 1]};
        \node (n263) [leaf,val={0}{3}] at (7761,8) {gini = 0.0\\samples = 3\\value = [0, 3]};
        \node (n264) [leaf,val={2}{0}] at (7433,5) {gini = 0.0\\samples = 2\\value = [2, 0]};
        \draw [->] (n0) -- node[lbl,pos=.944,yshift=29pt]{True} (n1);
        \draw [->] (n0) -- node[lbl,pos=.904,yshift=29pt]{False} (n162);
        \draw [->] (n1) -- (n2); \draw [->] (n1) -- (n135);
        \draw [->] (n2) -- (n3); \draw [->] (n2) -- (n98);
        \draw [->] (n3) -- (n4); \draw [->] (n3) -- (n33);
        \draw [->] (n4) -- (n5); \draw [->] (n4) -- (n32);
        \draw [->] (n5) -- (n6); \draw [->] (n5) -- (n19);
        \draw [->] (n6) -- (n7); \draw [->] (n6) -- (n18);
        \draw [->] (n7) -- (n8); \draw [->] (n7) -- (n9);
        \draw [->] (n9) -- (n10); \draw [->] (n9) -- (n13);
        \draw [->] (n10) -- (n11); \draw [->] (n10) -- (n12);
        \draw [->] (n13) -- (n14); \draw [->] (n13) -- (n15);
        \draw [->] (n15) -- (n16); \draw [->] (n15) -- (n17);
        \draw [->] (n19) -- (n20); \draw [->] (n19) -- (n27);
        \draw [->] (n20) -- (n21); \draw [->] (n20) -- (n26);
        \draw [->] (n21) -- (n22); \draw [->] (n21) -- (n23);
        \draw [->] (n23) -- (n24); \draw [->] (n23) -- (n25);
        \draw [->] (n27) -- (n28); \draw [->] (n27) -- (n31);
        \draw [->] (n28) -- (n29); \draw [->] (n28) -- (n30);
        \draw [->] (n33) -- (n34); \draw [->] (n33) -- (n63);
        \draw [->] (n34) -- (n35); \draw [->] (n34) -- (n62);
        \draw [->] (n35) -- (n36); \draw [->] (n35) -- (n37);
        \draw [->] (n37) -- (n38); \draw [->] (n37) -- (n47);
        \draw [->] (n38) -- (n39); \draw [->] (n38) -- (n44);
        \draw [->] (n39) -- (n40); \draw [->] (n39) -- (n43);
        \draw [->] (n40) -- (n41); \draw [->] (n40) -- (n42);
        \draw [->] (n44) -- (n45); \draw [->] (n44) -- (n46);
        \draw [->] (n47) -- (n48); \draw [->] (n47) -- (n61);
        \draw [->] (n48) -- (n49); \draw [->] (n48) -- (n58);
        \draw [->] (n49) -- (n50); \draw [->] (n49) -- (n57);
        \draw [->] (n50) -- (n51); \draw [->] (n50) -- (n56);
        \draw [->] (n51) -- (n52); \draw [->] (n51) -- (n53);
        \draw [->] (n53) -- (n54); \draw [->] (n53) -- (n55);
        \draw [->] (n58) -- (n59); \draw [->] (n58) -- (n60);
        \draw [->] (n63) -- (n64); \draw [->] (n63) -- (n79);
        \draw [->] (n64) -- (n65); \draw [->] (n64) -- (n66);
        \draw [->] (n66) -- (n67); \draw [->] (n66) -- (n70);
        \draw [->] (n67) -- (n68); \draw [->] (n67) -- (n69);
        \draw [->] (n70) -- (n71); \draw [->] (n70) -- (n78);
        \draw [->] (n71) -- (n72); \draw [->] (n71) -- (n77);
        \draw [->] (n72) -- (n73); \draw [->] (n72) -- (n76);
        \draw [->] (n73) -- (n74); \draw [->] (n73) -- (n75);
        \draw [->] (n79) -- (n80); \draw [->] (n79) -- (n97);
        \draw [->] (n80) -- (n81); \draw [->] (n80) -- (n96);
        \draw [->] (n81) -- (n82); \draw [->] (n81) -- (n95);
        \draw [->] (n82) -- (n83); \draw [->] (n82) -- (n84);
        \draw [->] (n84) -- (n85); \draw [->] (n84) -- (n88);
        \draw [->] (n85) -- (n86); \draw [->] (n85) -- (n87);
        \draw [->] (n88) -- (n89); \draw [->] (n88) -- (n92);
        \draw [->] (n89) -- (n90); \draw [->] (n89) -- (n91);
        \draw [->] (n92) -- (n93); \draw [->] (n92) -- (n94);
        \draw [->] (n98) -- (n99); \draw [->] (n98) -- (n132);
        \draw [->] (n99) -- (n100); \draw [->] (n99) -- (n107);
        \draw [->] (n100) -- (n101); \draw [->] (n100) -- (n106);
        \draw [->] (n101) -- (n102); \draw [->] (n101) -- (n105);
        \draw [->] (n102) -- (n103); \draw [->] (n102) -- (n104);
        \draw [->] (n107) -- (n108); \draw [->] (n107) -- (n123);
        \draw [->] (n108) -- (n109); \draw [->] (n108) -- (n120);
        \draw [->] (n109) -- (n110); \draw [->] (n109) -- (n111);
        \draw [->] (n111) -- (n112); \draw [->] (n111) -- (n113);
        \draw [->] (n113) -- (n114); \draw [->] (n113) -- (n119);
        \draw [->] (n114) -- (n115); \draw [->] (n114) -- (n118);
        \draw [->] (n115) -- (n116); \draw [->] (n115) -- (n117);
        \draw [->] (n120) -- (n121); \draw [->] (n120) -- (n122);
        \draw [->] (n123) -- (n124); \draw [->] (n123) -- (n131);
        \draw [->] (n124) -- (n125); \draw [->] (n124) -- (n130);
        \draw [->] (n125) -- (n126); \draw [->] (n125) -- (n127);
        \draw [->] (n127) -- (n128); \draw [->] (n127) -- (n129);
        \draw [->] (n132) -- (n133); \draw [->] (n132) -- (n134);
        \draw [->] (n135) -- (n136); \draw [->] (n135) -- (n139);
        \draw [->] (n136) -- (n137); \draw [->] (n136) -- (n138);
        \draw [->] (n139) -- (n140); \draw [->] (n139) -- (n159);
        \draw [->] (n140) -- (n141); \draw [->] (n140) -- (n144);
        \draw [->] (n141) -- (n142); \draw [->] (n141) -- (n143);
        \draw [->] (n144) -- (n145); \draw [->] (n144) -- (n158);
        \draw [->] (n145) -- (n146); \draw [->] (n145) -- (n147);
        \draw [->] (n147) -- (n148); \draw [->] (n147) -- (n155);
        \draw [->] (n148) -- (n149); \draw [->] (n148) -- (n154);
        \draw [->] (n149) -- (n150); \draw [->] (n149) -- (n151);
        \draw [->] (n151) -- (n152); \draw [->] (n151) -- (n153);
        \draw [->] (n155) -- (n156); \draw [->] (n155) -- (n157);
        \draw [->] (n159) -- (n160); \draw [->] (n159) -- (n161);
        \draw [->] (n162) -- (n163); \draw [->] (n162) -- (n170);
        \draw [->] (n163) -- (n164); \draw [->] (n163) -- (n169);
        \draw [->] (n164) -- (n165); \draw [->] (n164) -- (n166);
        \draw [->] (n166) -- (n167); \draw [->] (n166) -- (n168);
        \draw [->] (n170) -- (n171); \draw [->] (n170) -- (n234);
        \draw [->] (n171) -- (n172); \draw [->] (n171) -- (n233);
        \draw [->] (n172) -- (n173); \draw [->] (n172) -- (n232);
        \draw [->] (n173) -- (n174); \draw [->] (n173) -- (n175);
        \draw [->] (n175) -- (n176); \draw [->] (n175) -- (n231);
        \draw [->] (n176) -- (n177); \draw [->] (n176) -- (n230);
        \draw [->] (n177) -- (n178); \draw [->] (n177) -- (n213);
        \draw [->] (n178) -- (n179); \draw [->] (n178) -- (n208);
        \draw [->] (n179) -- (n180); \draw [->] (n179) -- (n203);
        \draw [->] (n180) -- (n181); \draw [->] (n180) -- (n192);
        \draw [->] (n181) -- (n182); \draw [->] (n181) -- (n183);
        \draw [->] (n183) -- (n184); \draw [->] (n183) -- (n185);
        \draw [->] (n185) -- (n186); \draw [->] (n185) -- (n187);
        \draw [->] (n187) -- (n188); \draw [->] (n187) -- (n191);
        \draw [->] (n188) -- (n189); \draw [->] (n188) -- (n190);
        \draw [->] (n192) -- (n193); \draw [->] (n192) -- (n198);
        \draw [->] (n193) -- (n194); \draw [->] (n193) -- (n197);
        \draw [->] (n194) -- (n195); \draw [->] (n194) -- (n196);
        \draw [->] (n198) -- (n199); \draw [->] (n198) -- (n200);
        \draw [->] (n200) -- (n201); \draw [->] (n200) -- (n202);
        \draw [->] (n203) -- (n204); \draw [->] (n203) -- (n205);
        \draw [->] (n205) -- (n206); \draw [->] (n205) -- (n207);
        \draw [->] (n208) -- (n209); \draw [->] (n208) -- (n212);
        \draw [->] (n209) -- (n210); \draw [->] (n209) -- (n211);
        \draw [->] (n213) -- (n214); \draw [->] (n213) -- (n217);
        \draw [->] (n214) -- (n215); \draw [->] (n214) -- (n216);
        \draw [->] (n217) -- (n218); \draw [->] (n217) -- (n229);
        \draw [->] (n218) -- (n219); \draw [->] (n218) -- (n222);
        \draw [->] (n219) -- (n220); \draw [->] (n219) -- (n221);
        \draw [->] (n222) -- (n223); \draw [->] (n222) -- (n228);
        \draw [->] (n223) -- (n224); \draw [->] (n223) -- (n227);
        \draw [->] (n224) -- (n225); \draw [->] (n224) -- (n226);
        \draw [->] (n234) -- (n235); \draw [->] (n234) -- (n254);
        \draw [->] (n235) -- (n236); \draw [->] (n235) -- (n253);
        \draw [->] (n236) -- (n237); \draw [->] (n236) -- (n248);
        \draw [->] (n237) -- (n238); \draw [->] (n237) -- (n247);
        \draw [->] (n238) -- (n239); \draw [->] (n238) -- (n246);
        \draw [->] (n239) -- (n240); \draw [->] (n239) -- (n243);
        \draw [->] (n240) -- (n241); \draw [->] (n240) -- (n242);
        \draw [->] (n243) -- (n244); \draw [->] (n243) -- (n245);
        \draw [->] (n248) -- (n249); \draw [->] (n248) -- (n252);
        \draw [->] (n249) -- (n250); \draw [->] (n249) -- (n251);
        \draw [->] (n254) -- (n255); \draw [->] (n254) -- (n264);
        \draw [->] (n255) -- (n256); \draw [->] (n255) -- (n257);
        \draw [->] (n257) -- (n258); \draw [->] (n257) -- (n259);
        \draw [->] (n259) -- (n260); \draw [->] (n259) -- (n263);
        \draw [->] (n260) -- (n261); \draw [->] (n260) -- (n262);
\end{tikzpicture}
\end{document}
